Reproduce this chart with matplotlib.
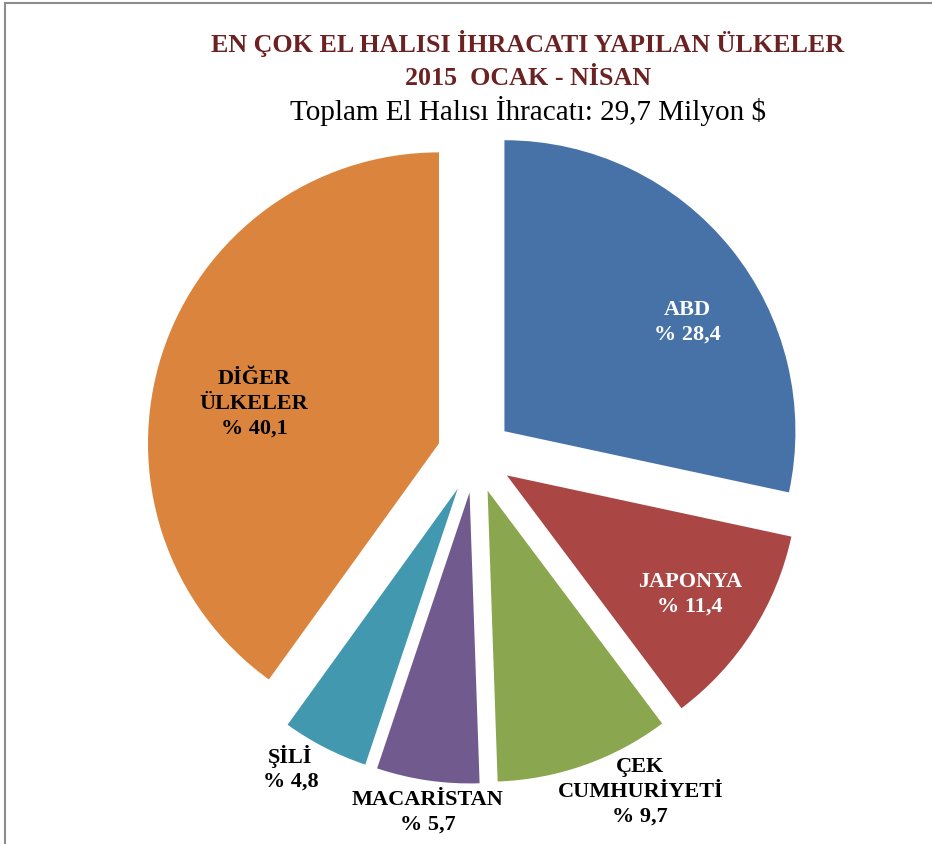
import numpy as np
import matplotlib
matplotlib.use("Agg")
import matplotlib.pyplot as plt
from matplotlib.lines import Line2D

# data
countries = ["ABD", "JAPONYA", "ÇEK\nCUMHURİYETİ", "MACARİSTAN", "ŞİLİ", "DİĞER\nÜLKELER"]
shares = [28.4, 11.4, 9.7, 5.7, 4.8, 40.1]
colors = ["#4672A7", "#AA4644", "#8AA64F", "#715A8E", "#4298AF", "#DB843D"]
label_colors = ["white", "white", "black", "black", "black", "black"]

# label placement relative to each exploded wedge (radius units, degrees)
label_r = [0.73, 0.75, 1.16, 1.11, 1.12, 0.65]
label_ang = [30.8, -33.0, -63.1, -97.5, -120.9, 167.9]

serif = ["Liberation Serif", "DejaVu Serif"]

fig = plt.figure(figsize=(9.32, 8.44), dpi=100)
ax = fig.add_axes([0, 0, 1, 1])

wedges, _ = ax.pie(shares, colors=colors, startangle=90, counterclock=False,
                   explode=[0.13] * len(shares), radius=1.0,
                   wedgeprops=dict(linewidth=0))

R = 291.0
ax.set_xlim(-475 / R, (932 - 475) / R)
ax.set_ylim(-(844 - 455) / R, 455 / R)
ax.set_aspect("auto")
ax.axis("off")

for w, name, val, r, a, c in zip(wedges, countries, shares, label_r, label_ang, label_colors):
    cx, cy = w.center
    tx = cx + r * np.cos(np.radians(a))
    ty = cy + r * np.sin(np.radians(a))
    txt = name + "\n% " + f"{val:.1f}".replace(".", ",")
    ax.text(tx, ty, txt, ha="center", va="center", fontsize=16, fontweight="bold",
            color=c, family=serif, linespacing=1.3)

fig.text(0.5665, 0.949, "EN ÇOK EL HALISI İHRACATI YAPILAN ÜLKELER", ha="center", va="center",
         fontsize=18.7, fontweight="bold", color="#6B2222", family=serif)
fig.text(0.5665, 0.907, "2015  OCAK - NİSAN", ha="center", va="center",
         fontsize=18.7, fontweight="bold", color="#6B2222", family=serif)
fig.text(0.5665, 0.868, "Toplam El Halısı İhracatı: 29,7 Milyon $", ha="center", va="center",
         fontsize=21, color="black", family=serif)

# frame edges visible in the reference
fig.add_artist(Line2D([5 / 932, 1], [1 - 3 / 844, 1 - 3 / 844], color="#8C8C8C", lw=1.5,
                      transform=fig.transFigure))
fig.add_artist(Line2D([5 / 932, 5 / 932], [0, 1 - 3 / 844], color="#8C8C8C", lw=1.5,
                      transform=fig.transFigure))

fig.savefig("out.png", dpi=100)
